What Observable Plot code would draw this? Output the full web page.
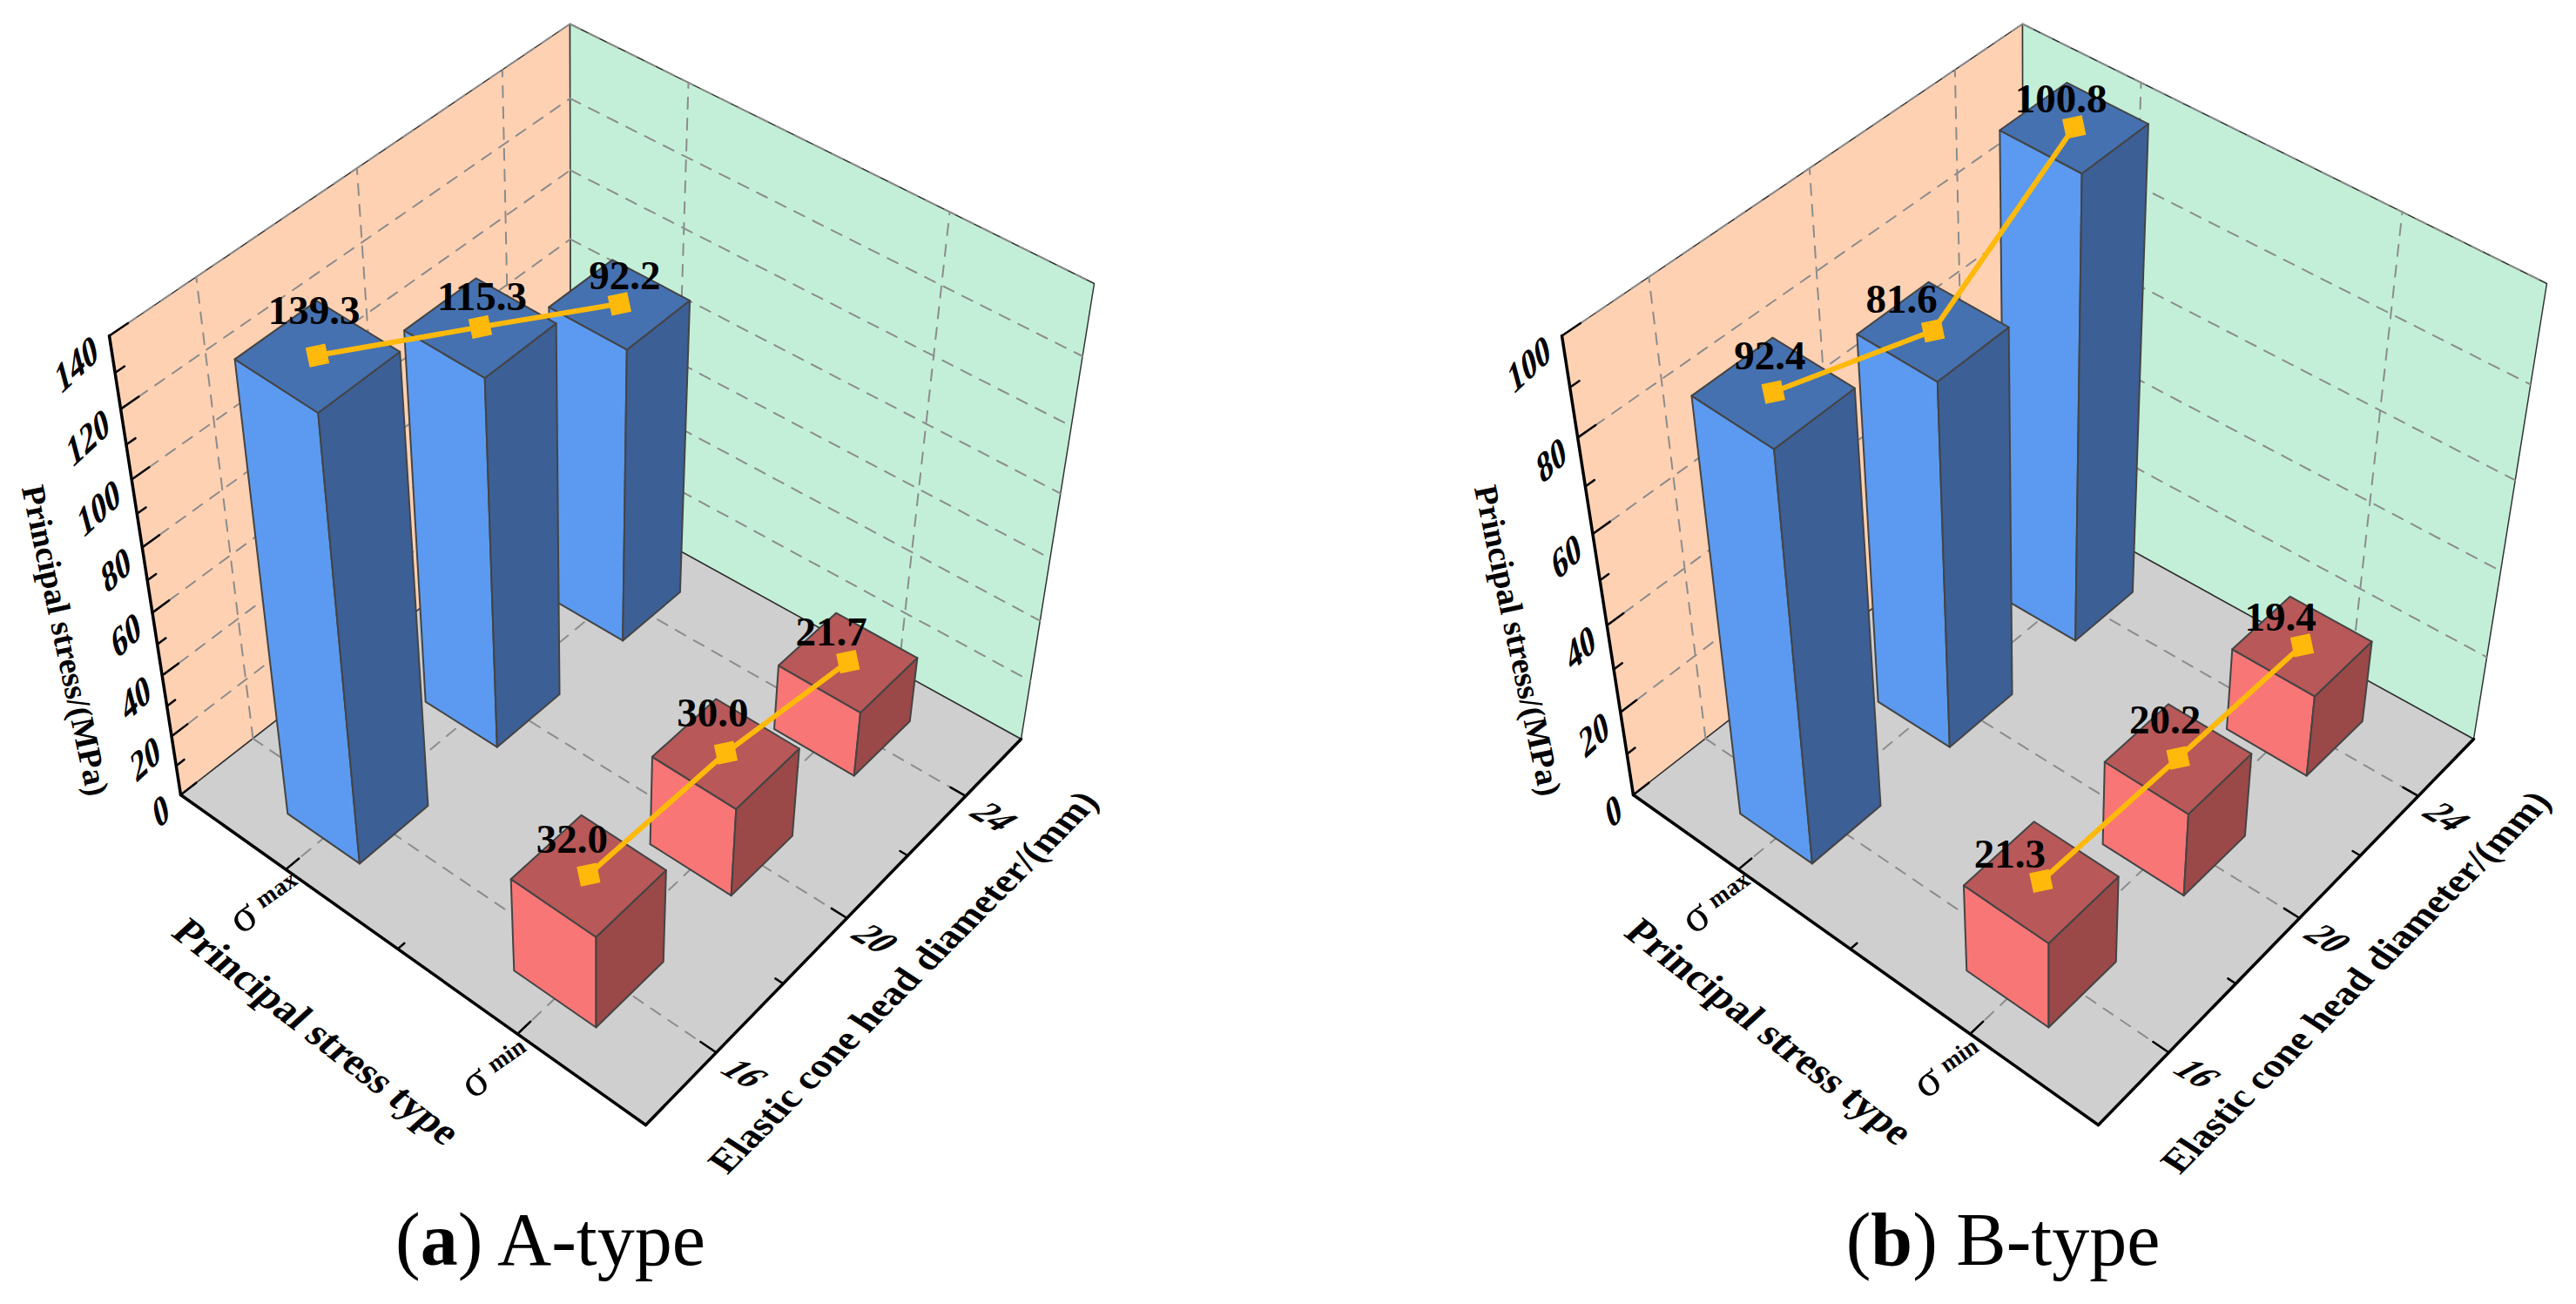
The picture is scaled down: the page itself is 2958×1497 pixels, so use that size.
<!DOCTYPE html>
<html>
<head>
<meta charset="utf-8">
<script src="https://cdn.jsdelivr.net/npm/d3@7"></script>
<script src="https://cdn.jsdelivr.net/npm/@observablehq/plot@0.6"></script>
<style>
html,body{margin:0;padding:0;background:#fff;}
#page{position:relative;width:2958px;height:1497px;overflow:hidden;display:flex;}
.panel{position:relative;height:1497px;}
.panel svg{display:block;}
.cap{position:absolute;top:1373px;left:632px;transform:translateX(-50%);font-family:"Liberation Serif",serif;font-size:86px;line-height:100px;white-space:nowrap;color:#000;}
</style>
</head>
<body>
<div id="page"></div>
<script>
// ---- chart values ----
const diameters = [16, 20, 24];
const stressTypes = ["max", "min"];
const aMaxStress = [139.3, 115.3, 92.2];
const aMinStress = [32.0, 30.0, 21.7];
const bMaxStress = [92.4, 81.6, 100.8];
const bMinStress = [21.3, 20.2, 19.4];
const aTicks = [0, 20, 40, 60, 80, 100, 120, 140];
const bTicks = [0, 20, 40, 60, 80, 100];

// ---- label nudges from each marker, in pixels (style, not data) ----
const aMaxNudge = [[-4,-51],[2,-34],[6,-32]];
const aMinNudge = [[-19,-40],[-15,-45],[-19,-34]];
const bMaxNudge = [[-4,-41],[-36,-36],[-15,-32]];
const bMinNudge = [[-36,-30],[-15,-43],[-25,-32]];

// ---- camera calibration of the 3D box (shared by both panels) ----
const floorQuad = {O:[207,912], B:[655,563], R:[1172,848], F:[741,1291]};
const topQuad   = {O:[125,385], B:[654,27],  R:[1256,325], F:[752,800]};
const persp = 0.14, barHalfU = 0.081, barHalfV = 0.083;
const panelWidths = [1668, 1290], svgHeight = 1372;
const uPos = [1/6, 1/2, 5/6], vPos = [0.25, 0.75];
const colors = {
  wallL:"#FFD1B3", wallR:"#C3EFD8", floor:"#CFCFCF",
  max:{front:"#5B9AF0", side:"#3C5F96", top:"#4571B0"},
  min:{front:"#F87676", side:"#9A4848", top:"#B85858"},
  line:"#FFB90A", grid:"#8C8C8C", edge:"#444444"
};
const textSkews = {skz:-28, sku:-32, skt:-10, ske:12};

function homography(q){
  const [x0,y0]=q.O,[x1,y1]=q.B,[x2,y2]=q.R,[x3,y3]=q.F;
  const dx1=x1-x2,dx2=x3-x2,sx=x0-x1+x2-x3,dy1=y1-y2,dy2=y3-y2,sy=y0-y1+y2-y3;
  const det=dx1*dy2-dx2*dy1;
  const g=(sx*dy2-dx2*sy)/det,h=(dx1*sy-sx*dy1)/det;
  const a=x1-x0+g*x1,b=x3-x0+h*x3,d=y1-y0+g*y1,e=y3-y0+h*y3;
  return (u,v)=>{const k=g*u+h*v+1;return [(a*u+b*v+x0)/k,(d*u+e*v+y0)/k];};
}
const H0=homography(floorQuad), H1=homography(topQuad);
function project(u,v,w){
  const t=w/(1+persp*(1-w));
  const p=H0(u,v),q=H1(u,v);
  return {x:p[0]+(q[0]-p[0])*t,y:p[1]+(q[1]-p[1])*t};
}

function panel(maxVals,minVals,nudges,ticks,axisMax,width){
  const W=v=>v/axisMax;
  const polys=[];
  const poly=(id,fill,stroke,pts)=>{pts.concat([pts[0]]).forEach(p=>polys.push({id,fill,stroke,...p}));};
  const back=[
    ["wallL",colors.wallL,[[0,0,0],[1,0,0],[1,0,1],[0,0,1]]],
    ["wallR",colors.wallR,[[1,0,0],[1,1,0],[1,1,1],[1,0,1]]],
    ["floor",colors.floor,[[0,0,0],[0,1,0],[1,1,0],[1,0,0]]]
  ];
  back.forEach(([id,fill,c])=>poly(id,fill,"#333",c.map(a=>project(...a))));

  const segs=[];
  const seg=(id,a,b)=>{segs.push({id,...project(...a)});segs.push({id,...project(...b)});};
  ticks.slice(1).forEach(t=>{
    seg("gl"+t,[0,0,W(t)],[1,0,W(t)]);
    seg("gr"+t,[1,0,W(t)],[1,1,W(t)]);
  });
  uPos.forEach(u=>{seg("wu"+u,[u,0,0],[u,0,1]);seg("fu"+u,[u,0,0],[u,1,0]);});
  vPos.forEach(v=>{seg("wv"+v,[1,v,0],[1,v,1]);seg("fv"+v,[0,v,0],[1,v,0]);});

  const axisSegs=[];
  const aseg=(id,a,b)=>{axisSegs.push({id,...project(...a)});axisSegs.push({id,...project(...b)});};
  const tickSegs=[];
  const tseg=(id,a,b)=>{tickSegs.push({id,...project(...a)});tickSegs.push({id,...project(...b)});};
  aseg("az",[0,0,0],[0,0,1]); aseg("av",[0,0,0],[0,1,0]); aseg("au",[0,1,0],[1,1,0]);
  ticks.forEach(t=>{
    tseg("tz"+t,[0,0,W(t)],[0.035,0,W(t)]);
    if(t<axisMax) tseg("mz"+t,[0,0,W(t+10)],[0.018,0,W(t+10)]);
  });
  vPos.forEach(v=>tseg("tv"+v,[0,v,0],[0.03,v,0]));
  tseg("mv",[0,0.5,0],[0.015,0.5,0]);
  uPos.forEach(u=>tseg("tu"+u,[u,1,0],[u,0.97,0]));
  [1/3,2/3].forEach(u=>tseg("mu"+u,[u,1,0],[u,0.985,0]));

  const bars=[];
  [[maxVals,"max",0],[minVals,"min",1]].forEach(([vals,type,vi])=>{
    [2,1,0].forEach(ui=>{
      const u=uPos[ui],v=vPos[vi],h=W(vals[ui]),c=colors[type];
      const u0=u-barHalfU,u1=u+barHalfU,v0=v-barHalfV,v1=v+barHalfV;
      const id=type+ui;
      const pf=(n,fill,corners)=>corners.map(a=>project(...a)).concat([project(...corners[0])]).forEach(p=>bars.push({id:id+n,fill,...p}));
      pf("f",c.front,[[u0,v0,0],[u0,v1,0],[u0,v1,h],[u0,v0,h]]);
      pf("s",c.side,[[u0,v1,0],[u1,v1,0],[u1,v1,h],[u0,v1,h]]);
      pf("t",c.top,[[u0,v0,h],[u0,v1,h],[u1,v1,h],[u1,v0,h]]);
    });
  });

  const points=[];
  [maxVals,minVals].forEach((vals,vi)=>vals.forEach((val,ui)=>{
    const p=project(uPos[ui],vPos[vi],W(val)),n=nudges[vi][ui];
    points.push({series:stressTypes[vi],value:val,diameter:diameters[ui],...p,lx:p.x+n[0],ly:p.y+n[1]});
  }));

  const zTickLabels=ticks.map(t=>({t,...project(0,0,W(t))}));
  const uLabels=diameters.map((d,i)=>({d,...project(uPos[i],1,0)}));
  const vLabels=stressTypes.map((s,i)=>({s,...project(0,vPos[i],0)}));

  const serif="Liberation Serif";
  const svg=Plot.plot({
    width,height:svgHeight,margin:0,
    x:{domain:[0,width],range:[0,width],axis:null},
    y:{domain:[0,svgHeight],range:[0,svgHeight],axis:null},
    color:{type:"identity"},
    style:{background:"transparent"},
    marks:[
      Plot.line(polys,{x:"x",y:"y",z:"id",fill:"fill",stroke:"stroke",strokeWidth:1.5}),
      Plot.line(segs,{x:"x",y:"y",z:"id",stroke:colors.grid,strokeWidth:2,strokeDasharray:"13 11"}),
      Plot.line(axisSegs,{x:"x",y:"y",z:"id",stroke:"#000",strokeWidth:3.5}),
      Plot.line(tickSegs,{x:"x",y:"y",z:"id",stroke:"#000",strokeWidth:2.5}),
      Plot.line(bars,{x:"x",y:"y",z:"id",fill:"fill",stroke:colors.edge,strokeWidth:2,strokeLinejoin:"round"}),
      Plot.line(points,{x:"x",y:"y",z:"series",stroke:colors.line,strokeWidth:6}),
      Plot.dot(points,{x:"x",y:"y",symbol:"square",r:13,fill:colors.line,rotate:-12}),
      Plot.text(points,{x:"lx",y:"ly",text:d=>d.value.toFixed(1),fontFamily:serif,fontWeight:"bold",fontSize:47,fill:"#000"}),
      Plot.text(zTickLabels,{x:"x",y:"y",text:"t",dx:-15,dy:12,textAnchor:"end",rotate:-43,fontFamily:serif,fontWeight:"bold",fontSize:41,fill:"#000",className:"skz"}),
      Plot.text(uLabels,{x:"x",y:"y",text:"d",dx:32,dy:24,rotate:30,fontFamily:serif,fontWeight:"bold",fontSize:40,fill:"#000",className:"sku"}),
      Plot.text(vLabels,{x:"x",y:"y",text:()=>"σ",dx:-38,dy:46,textAnchor:"end",rotate:-35,fontFamily:serif,fontSize:52,fill:"#000"}),
      Plot.text(vLabels,{x:"x",y:"y",text:d=>d.s,dx:-32,dy:38,textAnchor:"start",rotate:-35,fontFamily:serif,fontWeight:"bold",fontSize:28,fill:"#000"}),
      Plot.text([{x:74,y:735}],{x:"x",y:"y",text:()=>"Principal stress/(MPa)",rotate:78,fontFamily:serif,fontWeight:"bold",fontSize:38,fill:"#000"}),
      Plot.text([{x:363,y:1184}],{x:"x",y:"y",text:()=>"Principal stress type",rotate:37.7,fontFamily:serif,fontWeight:"bold",fontSize:46,fill:"#000",className:"skt"}),
      Plot.text([{x:1037,y:1127}],{x:"x",y:"y",text:()=>"Elastic cone head diameter/(mm)",rotate:-45,fontFamily:serif,fontWeight:"bold",fontSize:43,fill:"#000",className:"ske"})
    ]
  });
  Object.entries(textSkews).forEach(([cls,a])=>{
    svg.querySelectorAll("."+cls+" text").forEach(t=>{
      t.setAttribute("transform",(t.getAttribute("transform")||"")+" skewX("+a+")");
    });
  });
  return svg;
}

const page=document.getElementById("page");
[[aMaxStress,aMinStress,[aMaxNudge,aMinNudge],aTicks,140,"a","A-type"],[bMaxStress,bMinStress,[bMaxNudge,bMinNudge],bTicks,100,"b","B-type"]].forEach(([mx,mn,nd,t,top,l,name],i)=>{
  const div=document.createElement("div");
  div.className="panel";
  div.style.width=panelWidths[i]+"px";
  div.appendChild(panel(mx,mn,nd,t,top,panelWidths[i]));
  const cap=document.createElement("div");
  cap.className="cap";
  cap.innerHTML="(<b>"+l+"</b>) "+name;
  div.appendChild(cap);
  page.appendChild(div);
});
</script>
</body>
</html>
